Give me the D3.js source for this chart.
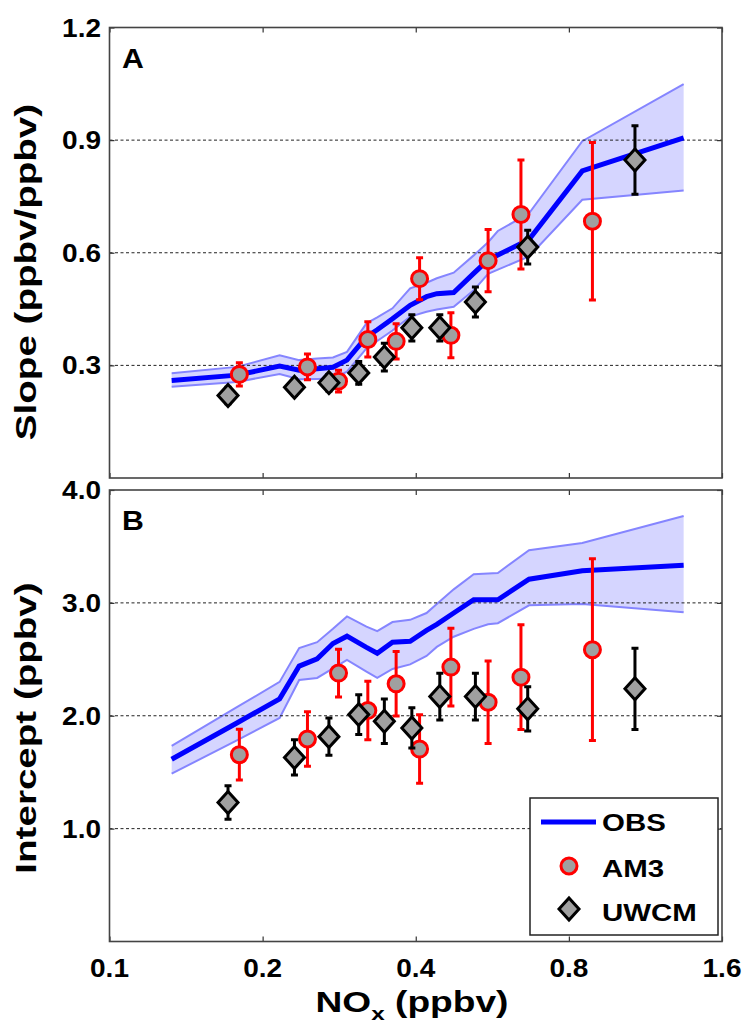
<!DOCTYPE html>
<html>
<head>
<meta charset="utf-8">
<script src="https://cdn.jsdelivr.net/npm/d3@7"></script>
<style>
  body { margin: 0; background: #fff; }
  text { font-family: "Liberation Sans", Arial, sans-serif; font-weight: bold; fill: #000; }
</style>
</head>
<body>
<svg id="chart" width="751" height="1030"></svg>
<script>
'use strict';

// OBS bins, shared by both panels
const obsX = [0.1325, 0.178, 0.216, 0.236, 0.256, 0.275, 0.293, 0.32, 0.336, 0.36,
              0.39, 0.42, 0.44, 0.475, 0.52, 0.555, 0.58, 0.668, 0.85, 1.345];

const slopeObs = [0.260, 0.274, 0.298, 0.287, 0.291, 0.295, 0.314, 0.376, 0.395, 0.424,
                  0.460, 0.483, 0.491, 0.494, 0.545, 0.581, 0.594, 0.635, 0.818, 0.906];
const slopeLo  = [0.243, 0.256, 0.277, 0.263, 0.264, 0.265, 0.283, 0.345, 0.365, 0.393,
                  0.430, 0.443, 0.449, 0.456, 0.500, 0.544, 0.555, 0.590, 0.741, 0.766];
const slopeHi  = [0.279, 0.296, 0.327, 0.314, 0.318, 0.321, 0.336, 0.412, 0.428, 0.452,
                  0.505, 0.520, 0.532, 0.547, 0.593, 0.628, 0.658, 0.705, 0.897, 1.049];

const interObs = [1.615, 1.936, 2.150, 2.440, 2.505, 2.640, 2.705, 2.606, 2.554, 2.652,
                  2.660, 2.756, 2.810, 2.910, 3.028, 3.028, 3.028, 3.210, 3.285, 3.333];
const interLo  = [1.487, 1.782, 1.980, 2.317, 2.335, 2.420, 2.495, 2.390, 2.335, 2.415,
                  2.455, 2.530, 2.610, 2.700, 2.770, 2.810, 2.820, 2.978, 2.990, 2.918];
const interHi  = [1.733, 2.076, 2.300, 2.600, 2.652, 2.770, 2.880, 2.790, 2.750, 2.830,
                  2.850, 2.910, 2.990, 3.120, 3.253, 3.260, 3.265, 3.467, 3.530, 3.770];

// AM3 model
const am3X = [0.180, 0.245, 0.282, 0.322, 0.366, 0.407, 0.469, 0.555, 0.644, 0.890];
const am3Slope    = [0.276, 0.296, 0.258, 0.369, 0.364, 0.531, 0.380, 0.579, 0.702, 0.684];
const am3SlopeErr = [0.031, 0.034, 0.029, 0.047, 0.047, 0.056, 0.060, 0.083, 0.145, 0.210];
const am3Inter    = [1.655, 1.794, 2.378, 2.046, 2.283, 1.705, 2.431, 2.120, 2.342, 2.585];
const am3InterErr = [0.225, 0.241, 0.212, 0.259, 0.286, 0.304, 0.344, 0.366, 0.464, 0.805];

// UWCM model
const uwX = [0.171, 0.231, 0.270, 0.309, 0.347, 0.393, 0.446, 0.524, 0.664, 1.079];
const uwSlope    = [0.220, 0.242, 0.254, 0.280, 0.322, 0.400, 0.400, 0.469, 0.615, 0.847];
const uwSlopeErr = [0.022, 0.022, 0.022, 0.030, 0.037, 0.035, 0.035, 0.040, 0.045, 0.091];
const uwInter    = [1.231, 1.631, 1.815, 2.010, 1.951, 1.892, 2.170, 2.170, 2.061, 2.239];
const uwInterErr = [0.148, 0.156, 0.166, 0.177, 0.197, 0.178, 0.207, 0.207, 0.196, 0.360];

const xTicks = [0.1, 0.2, 0.4, 0.8, 1.6];
const slopeTicks = [0.3, 0.6, 0.9, 1.2];
const interTicks = [1.0, 2.0, 3.0, 4.0];

const LEFT = 109.5, RIGHT = 722;
const STRETCH = 1.28;   // the original font runs wide
const GREY = '#a0a0a0';

const svg = d3.select('#chart');
const x = d3.scaleLog().base(2).domain([0.1, 1.6]).range([LEFT, RIGHT]);

function diamond(w, h) {
  return 'M0,' + (-h) + 'L' + w + ',0L0,' + h + 'L' + (-w) + ',0Z';
}

function drawPanel(p) {
  const y = d3.scaleLinear().domain([0, p.yMax]).range([p.bottom, p.top]);
  const g = svg.append('g');
  const gridVals = p.ticks.slice(0, -1);

  // spread band
  const band = obsX.map((v, i) => ({x: v, lo: p.lo[i], hi: p.hi[i], m: p.mean[i]}));
  g.append('path')
    .attr('d', d3.area().x(d => x(d.x)).y0(d => y(d.lo)).y1(d => y(d.hi))(band))
    .attr('fill', '#d5d5ff');
  ['lo', 'hi'].forEach(k => {
    g.append('path')
      .attr('d', d3.line().x(d => x(d.x)).y(d => y(d[k]))(band))
      .attr('fill', 'none').attr('stroke', '#8585ff').attr('stroke-width', 2);
  });

  // dashed grid
  g.selectAll('.grid').data(gridVals).enter().append('line')
    .attr('x1', LEFT).attr('x2', RIGHT)
    .attr('y1', d => y(d)).attr('y2', d => y(d))
    .attr('stroke', '#222').attr('stroke-width', 1).attr('stroke-dasharray', '3,2.5');

  g.append('path')
    .attr('d', d3.line().x(d => x(d.x)).y(d => y(d.m))(band))
    .attr('fill', 'none').attr('stroke', '#0000ff').attr('stroke-width', 5);

  // AM3 then UWCM, each with its error bars
  const series = [
    {xs: am3X, v: p.am3, e: p.am3Err, color: '#ff0000', kind: 'circle'},
    {xs: uwX, v: p.uw, e: p.uwErr, color: '#000', kind: 'diamond'}
  ];
  series.forEach(s => {
    const pts = s.xs.map((v, i) => ({x: v, y: s.v[i], e: s.e[i]}));
    const eb = g.append('g').attr('stroke', s.color).attr('stroke-width', 3).attr('fill', 'none');
    pts.forEach(d => {
      const cx = x(d.x), y1 = y(d.y + d.e), y2 = y(d.y - d.e);
      eb.append('path')
        .attr('d', 'M' + cx + ',' + y1 + 'V' + y2 +
                   'M' + (cx - 3.5) + ',' + y1 + 'H' + (cx + 3.5) +
                   'M' + (cx - 3.5) + ',' + y2 + 'H' + (cx + 3.5));
    });
    if (s.kind === 'circle') {
      g.selectAll(null).data(pts).enter().append('circle')
        .attr('cx', d => x(d.x)).attr('cy', d => y(d.y)).attr('r', 8)
        .attr('fill', GREY).attr('stroke', s.color).attr('stroke-width', 3);
    } else {
      g.selectAll(null).data(pts).enter().append('path')
        .attr('transform', d => 'translate(' + x(d.x) + ',' + y(d.y) + ')')
        .attr('d', diamond(10, 11))
        .attr('fill', GREY).attr('stroke', s.color).attr('stroke-width', 3)
        .attr('stroke-linejoin', 'miter');
    }
  });

  // ticks, pointing inwards
  const tickStyle = sel => {
    sel.select('.domain').remove();
    sel.selectAll('line').attr('stroke', '#333').attr('stroke-width', 1.2);
    sel.selectAll('text').remove();
  };
  g.append('g').attr('transform', 'translate(0,' + p.top + ')')
    .call(d3.axisTop(x).tickValues(xTicks).tickSize(-5)).call(tickStyle);
  g.append('g').attr('transform', 'translate(0,' + p.bottom + ')')
    .call(d3.axisBottom(x).tickValues(xTicks).tickSize(-5)).call(tickStyle);
  g.append('g').attr('transform', 'translate(' + LEFT + ',0)')
    .call(d3.axisLeft(y).tickValues(p.ticks).tickSize(-5)).call(tickStyle);
  g.append('g').attr('transform', 'translate(' + RIGHT + ',0)')
    .call(d3.axisRight(y).tickValues(p.ticks).tickSize(-5)).call(tickStyle);

  g.append('rect')
    .attr('x', LEFT).attr('y', p.top)
    .attr('width', RIGHT - LEFT).attr('height', p.bottom - p.top)
    .attr('fill', 'none').attr('stroke', '#444').attr('stroke-width', 1.6);

  // y tick labels
  g.selectAll('.ylab').data(p.ticks).enter().append('text')
    .attr('transform', d => 'translate(101,' + y(d) + ') scale(1.12,1)')
    .attr('text-anchor', 'end').attr('dy', '0.36em')
    .style('font-size', '25px')
    .text(d3.format('.1f'));

  g.append('text')
    .attr('transform', 'translate(122,' + (p.top + 40) + ') scale(1.12,1)')
    .style('font-size', '27px')
    .text(p.letter);

  g.append('text')
    .attr('transform', 'translate(36,' + p.titleY + ') rotate(-90) scale(1.33,1)')
    .attr('text-anchor', 'middle')
    .style('font-size', '29px')
    .text(p.title);

  return g;
}

drawPanel({
  top: 27.5, bottom: 478, yMax: 1.2, ticks: slopeTicks, letter: 'A',
  title: 'Slope (ppbv/ppbv)', titleY: 272,
  mean: slopeObs, lo: slopeLo, hi: slopeHi,
  am3: am3Slope, am3Err: am3SlopeErr, uw: uwSlope, uwErr: uwSlopeErr
});

drawPanel({
  top: 490, bottom: 941.5, yMax: 4.0, ticks: interTicks, letter: 'B',
  title: 'Intercept (ppbv)', titleY: 728,
  mean: interObs, lo: interLo, hi: interHi,
  am3: am3Inter, am3Err: am3InterErr, uw: uwInter, uwErr: uwInterErr
});

// x tick labels under the lower panel
svg.selectAll('.xlab').data(xTicks).enter().append('text')
  .attr('transform', d => 'translate(' + x(d) + ',977) scale(1.12,1)')
  .attr('text-anchor', 'middle')
  .style('font-size', '25px')
  .text(d3.format('.1f'));

const xTitle = svg.append('text')
  .attr('transform', 'translate(412,1012) scale(' + STRETCH + ',1)')
  .attr('text-anchor', 'middle')
  .style('font-size', '29px');
xTitle.append('tspan').text('NO');
xTitle.append('tspan').attr('dy', 8).style('font-size', '19px').text('x');
xTitle.append('tspan').attr('dy', -8).text(' (ppbv)');

// legend
const legend = svg.append('g');
legend.append('rect')
  .attr('x', 530).attr('y', 798).attr('width', 188).attr('height', 137)
  .attr('fill', '#fff').attr('stroke', '#222').attr('stroke-width', 1.5);
legend.append('line')
  .attr('x1', 541).attr('x2', 596).attr('y1', 822).attr('y2', 822)
  .attr('stroke', '#0000ff').attr('stroke-width', 5);
legend.append('circle')
  .attr('cx', 569).attr('cy', 866).attr('r', 8)
  .attr('fill', GREY).attr('stroke', '#ff0000').attr('stroke-width', 3);
legend.append('path')
  .attr('transform', 'translate(569,909)')
  .attr('d', diamond(10, 11))
  .attr('fill', GREY).attr('stroke', '#000').attr('stroke-width', 3);
[['OBS', 831], ['AM3', 877], ['UWCM', 921]].forEach(([t, yy]) => {
  legend.append('text')
    .attr('transform', 'translate(602,' + yy + ') scale(' + STRETCH + ',1)')
    .style('font-size', '23px')
    .text(t);
});
</script>
</body>
</html>
